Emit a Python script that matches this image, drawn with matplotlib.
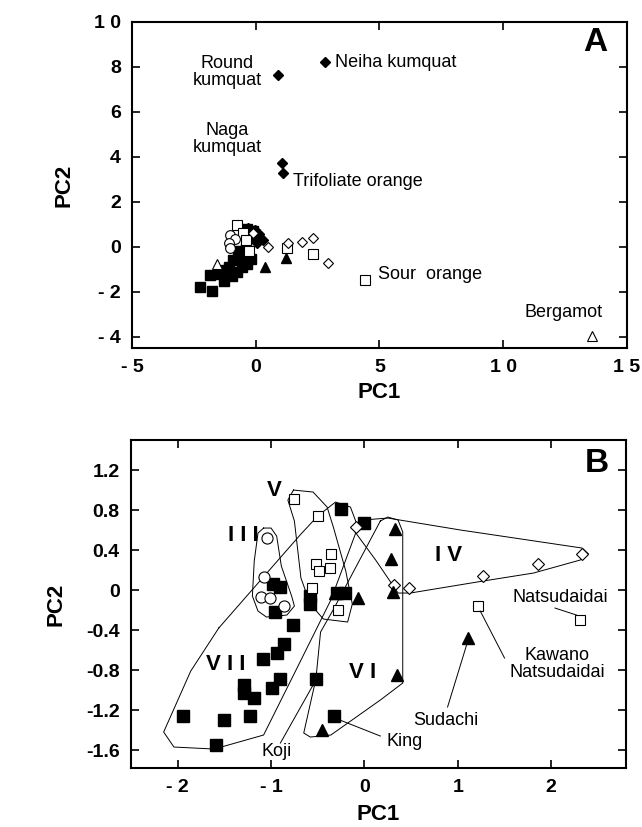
import matplotlib
matplotlib.use("Agg")
import matplotlib.pyplot as plt

plt.rcParams['font.family'] = ['Liberation Sans', 'DejaVu Sans']

# ---------- panel A data (PC1, PC2) ----------
a_fdiam_x = [0.9, 2.8, 1.06, 1.1, -0.3, -0.05, 0.15, 0.3, -0.15, 0.05]
a_fdiam_y = [7.65, 8.2, 3.73, 3.29, 0.85, 0.75, 0.55, 0.3, 0.4, 0.15]
a_odiam_x = [-0.11, 0.49, 1.3, 1.87, 2.31, 2.92]
a_odiam_y = [0.62, 0.0, 0.18, 0.22, 0.4, -0.71]
a_osq_x = [-0.76, -0.5, -0.39, -0.27, 1.26, 2.31, 4.4]
a_osq_y = [0.98, 0.6, 0.31, -0.18, -0.04, -0.31, -1.47]
a_circ_x = [-1.04, -0.85, -1.08, -1.04]
a_circ_y = [0.53, 0.35, 0.18, -0.04]
a_ftri_x = [1.22, 0.37]
a_ftri_y = [-0.49, -0.89]
a_otri_x = [-1.57, 13.6]
a_otri_y = [-0.76, -3.96]
a_fsq_x = [-2.25, -1.75, -1.85, -1.5, -1.3, -1.1, -0.95, -0.75, -0.9, -0.6,
           -0.55, -0.35, -0.2, -1.2, -0.7, -0.4, -0.35, -0.1]
a_fsq_y = [-1.78, -1.95, -1.25, -1.2, -1.5, -0.9, -1.3, -1.1, -0.6, -0.5,
           -0.9, -0.75, -0.55, -1.05, -0.2, -0.1, 0.8, 0.7]

a_xticks = [-5, 0, 5, 10, 15]
a_xlabels = ["- 5", "0", "5", "1 0", "1 5"]
a_yticks = [-4, -2, 0, 2, 4, 6, 8, 10]
a_ylabels = ["- 4", "- 2", "0", "2", "4", "6", "8", "1 0"]

# ---------- panel B data ----------
b_fsq_x = [-0.98, -0.90, -0.96, -0.76, -0.86, -0.94, -1.09, -0.90, -0.99, -1.29,
           -1.29, -1.18, -1.94, -1.50, -1.23, -1.59, -0.58, -0.58, -0.29, -0.21,
           -0.25, 0.0, -0.52, -0.33]
b_fsq_y = [0.06, 0.03, -0.22, -0.35, -0.54, -0.63, -0.69, -0.89, -0.98, -0.95,
           -1.03, -1.08, -1.26, -1.30, -1.26, -1.55, -0.06, -0.14, -0.03, -0.03,
           0.81, 0.67, -0.89, -1.26]
b_osq_x = [-0.75, -0.50, -0.36, -0.52, -0.37, -0.49, -0.56, -0.28, 1.22, 2.31]
b_osq_y = [0.91, 0.74, 0.36, 0.26, 0.22, 0.19, 0.02, -0.20, -0.16, -0.30]
b_circ_x = [-1.04, -1.08, -1.11, -1.01, -0.86]
b_circ_y = [0.52, 0.13, -0.07, -0.08, -0.16]
b_odiam_x = [-0.09, 0.32, 0.48, 1.27, 1.86, 2.33]
b_odiam_y = [0.63, 0.05, 0.02, 0.14, 0.26, 0.36]
b_ftri_x = [0.33, 0.28, 0.31, -0.31, -0.07, 1.11, -0.45, 0.35]
b_ftri_y = [0.61, 0.31, -0.02, -0.03, -0.08, -0.48, -1.40, -0.85]

b_xticks = [-2, -1, 0, 1, 2]
b_xlabels = ["- 2", "- 1", "0", "1", "2"]
b_yticks = [-1.6, -1.2, -0.8, -0.4, 0, 0.4, 0.8, 1.2]
b_ylabels = ["-1.6", "-1.2", "-0.8", "-0.4", "0", "0.4", "0.8", "1.2"]

# group outlines in panel B
grp_III = [(-1.08, 0.62), (-1.14, 0.57), (-1.18, 0.29), (-1.20, -0.06), (-1.14, -0.21),
           (-1.05, -0.27), (-0.83, -0.25), (-0.75, -0.16), (-0.78, -0.06), (-0.89, 0.24),
           (-0.94, 0.54), (-1.0, 0.62)]
grp_V = [(-0.76, 1.0), (-0.55, 0.98), (-0.40, 0.83), (-0.33, 0.62), (-0.20, 0.19),
         (-0.13, -0.14), (-0.18, -0.32), (-0.44, -0.29), (-0.58, -0.14), (-0.68, 0.12),
         (-0.75, 0.69), (-0.82, 0.9)]
grp_VII = [(-1.56, -0.38), (-0.68, 0.56), (-0.50, 0.74), (-0.31, 0.88), (-0.15, 0.83),
           (-0.07, 0.63), (-0.36, -0.10), (-0.69, -0.72), (-1.08, -1.45), (-1.61, -1.59),
           (-2.04, -1.57), (-2.15, -1.42), (-1.86, -0.81)]
grp_VI = [(0.17, 0.69), (0.25, 0.73), (0.36, 0.70), (0.41, 0.58), (0.41, -0.93),
          (0.17, -1.10), (-0.36, -1.45), (-0.58, -1.47), (-0.65, -1.43), (-0.52, -0.89),
          (-0.47, -0.42), (-0.33, -0.19)]
grp_IV = [(-0.12, 0.64), (-0.02, 0.70), (0.25, 0.72), (1.03, 0.60), (2.33, 0.42),
          (2.40, 0.36), (2.31, 0.30), (1.81, 0.17), (1.27, 0.09), (0.49, -0.03),
          (0.36, -0.03), (0.12, 0.30), (-0.10, 0.58)]

fig = plt.figure(figsize=(6.42, 8.27), dpi=100)

# ================= panel A =================
ax = fig.add_axes([0.2056, 0.5792, 0.771, 0.3942])
kw_o = dict(linestyle='none', markerfacecolor='white', markeredgecolor='black', markeredgewidth=0.8)
kw_f = dict(linestyle='none', color='black')
ax.plot(a_fsq_x, a_fsq_y, 's', markersize=7, **kw_f)
ax.plot(a_fdiam_x, a_fdiam_y, 'D', markersize=5, **kw_f)
ax.plot(a_osq_x, a_osq_y, 's', markersize=6.5, **kw_o)
ax.plot(a_circ_x, a_circ_y, 'o', markersize=7, **kw_o)
ax.plot(a_odiam_x, a_odiam_y, 'D', markersize=5, **kw_o)
ax.plot(a_ftri_x, a_ftri_y, '^', markersize=7, **kw_f)
ax.plot(a_otri_x, a_otri_y, '^', markersize=7, **kw_o)

ax.set_xlim(-5, 15)
ax.set_ylim(-4.5, 10)
ax.set_xticks(a_xticks, a_xlabels)
ax.set_yticks(a_yticks, a_ylabels)

txt = dict(fontsize=13)
ax.text(-1.16, 7.78, "Round\nkumquat", ha='center', va='center', linespacing=1.0, **txt)
ax.text(3.2, 8.18, "Neiha kumquat", ha='left', va='center', **txt)
ax.text(-1.16, 4.8, "Naga\nkumquat", ha='center', va='center', linespacing=1.0, **txt)
ax.text(1.5, 2.89, "Trifoliate orange", ha='left', va='center', **txt)
ax.text(4.94, -1.25, "Sour  orange", ha='left', va='center', **txt)
ax.text(12.45, -2.93, "Bergamot", ha='center', va='center', **txt)
ax.text(0.96, 0.985, "A", transform=ax.transAxes, ha='right', va='top',
        fontsize=24, fontweight='bold')
ax.set_xlabel("PC1", fontsize=16, fontweight='bold', labelpad=4)
ax.set_ylabel("PC2", fontsize=16, fontweight='bold', labelpad=14)

# ================= panel B =================
bx = fig.add_axes([0.204, 0.0713, 0.771, 0.3966])
for pts in [grp_III, grp_V, grp_VII, grp_VI, grp_IV]:
    xs = [p[0] for p in pts] + [pts[0][0]]
    ys = [p[1] for p in pts] + [pts[0][1]]
    bx.plot(xs, ys, color='black', linewidth=0.7, solid_joinstyle='round')

bx.plot(b_fsq_x, b_fsq_y, 's', markersize=8.5, **kw_f)
bx.plot(b_osq_x, b_osq_y, 's', markersize=7.5, **kw_o)
bx.plot(b_circ_x, b_circ_y, 'o', markersize=8, **kw_o)
bx.plot(b_odiam_x, b_odiam_y, 'D', markersize=6, **kw_o)
bx.plot(b_ftri_x, b_ftri_y, '^', markersize=8.5, **kw_f)

# leader lines
ln = dict(color='black', linewidth=0.7)
bx.plot([2.04, 2.27], [-0.18, -0.25], **ln)
bx.plot([1.24, 1.50], [-0.21, -0.68], **ln)
bx.plot([0.89, 1.10], [-1.17, -0.53], **ln)
bx.plot([-0.29, 0.17], [-1.29, -1.46], **ln)
bx.plot([-0.90, -0.52], [-1.53, -0.90], **ln)

rom = dict(fontsize=16, fontweight='bold', ha='center', va='center')
bx.text(-0.97, 1.0, "V", **rom)
bx.text(-1.30, 0.55, "I I I", **rom)
bx.text(0.90, 0.35, "I V", **rom)
bx.text(-1.49, -0.74, "V I I", **rom)
bx.text(-0.02, -0.82, "V I", **rom)

lab = dict(fontsize=13, ha='center', va='center')
bx.text(2.10, -0.07, "Natsudaidai", **lab)
bx.text(2.06, -0.74, "Kawano\nNatsudaidai", linespacing=1.0, **lab)
bx.text(0.87, -1.30, "Sudachi", **lab)
bx.text(0.43, -1.51, "King", **lab)
bx.text(-0.94, -1.61, "Koji", **lab)
bx.text(0.965, 0.975, "B", transform=bx.transAxes, ha='right', va='top',
        fontsize=24, fontweight='bold')

bx.set_xlim(-2.5, 2.8)
bx.set_ylim(-1.78, 1.5)
bx.set_xticks(b_xticks, b_xlabels)
bx.set_yticks(b_yticks, b_ylabels)
bx.set_xlabel("PC1", fontsize=16, fontweight='bold', labelpad=6)
bx.set_ylabel("PC2", fontsize=16, fontweight='bold', labelpad=14)

for a in (ax, bx):
    a.tick_params(direction='in', top=True, right=True, length=6, width=1.2,
                  labelsize=14, pad=8)
    for lbl in a.get_xticklabels() + a.get_yticklabels():
        lbl.set_fontweight('bold')
    for s in a.spines.values():
        s.set_linewidth(1.5)

fig.savefig("out.png", dpi=100)
